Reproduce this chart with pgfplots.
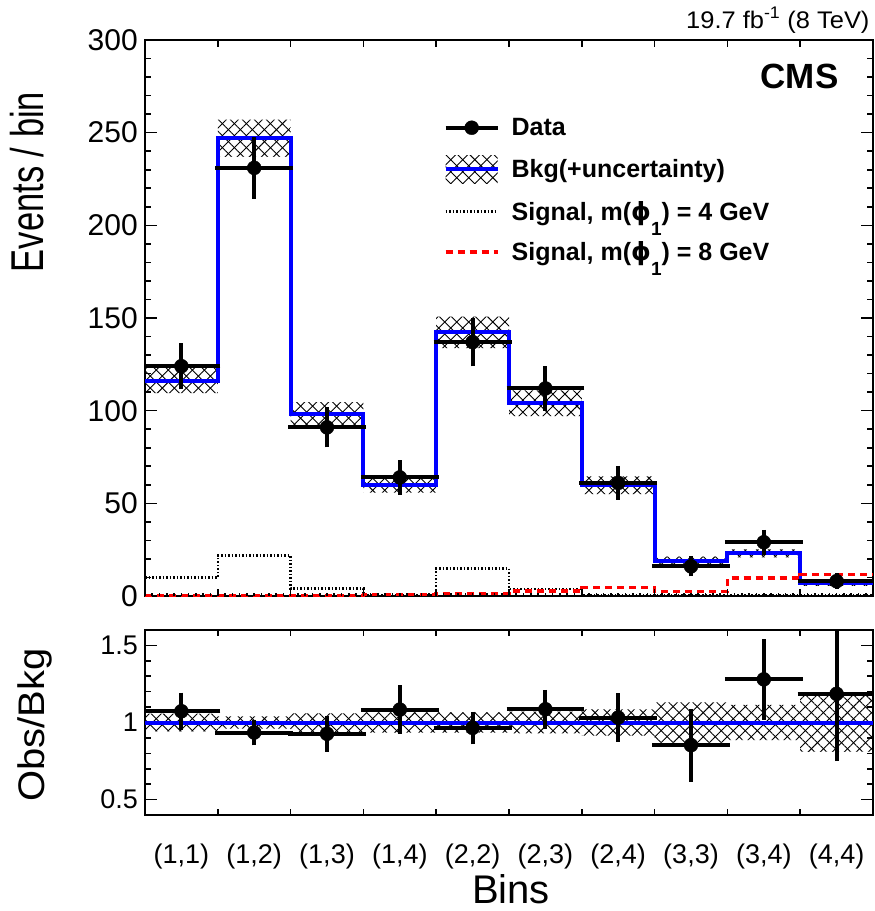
\documentclass[border=0pt]{standalone}
\usepackage{fontspec}
\setmainfont{Liberation Sans}
\newfontfamily\greekfont{DejaVu Sans}
\usepackage{graphicx}
\usepackage{pgfplots}
\usepackage{pgfplotstable}
\pgfplotsset{compat=1.18}
\usepgfplotslibrary{fillbetween}
\usetikzlibrary{patterns.meta}

\definecolor{bkgblue}{RGB}{0,0,255}
\definecolor{sigred}{RGB}{255,0,0}

% Step histograms: left bin edge, last row repeated to close the last bin
\pgfplotstableread{
edge  bkg    bunc  sig4  sig8  runc
0     116.2  6.7   10.0  0.3   0.057
1     247.0  10.0  21.8  0.3   0.040
2     98.3   6.3   4.0   0.4   0.060
3     59.7   3.9   0.6   0.8   0.065
4     142.3  8.5   14.8  1.4   0.065
5     104.0  7.0   3.9   2.7   0.070
6     59.8   4.8   0.2   4.5   0.085
7     19.0   2.3   0.2   2.3   0.130
8     23.0   2.2   0.2   9.6   0.115
9     6.8    1.3   0.2   11.6  0.190
10    6.8    1.3   0.2   11.6  0.190
}\steptab

% Observed events and ratio to the background prediction
\pgfplotstableread{
x    data  derr  ratio  rerr
0.5  124   11.1  1.073  0.104
1.5  231   15.2  0.935  0.067
2.5  91    9.5   0.927  0.100
3.5  64    8.0   1.084  0.140
4.5  137   11.7  0.965  0.090
5.5  112   10.6  1.086  0.110
6.5  61    7.8   1.032  0.140
7.5  16    4.0   0.853  0.220
8.5  29    5.4   1.280  0.245
9.5  8     2.8   1.186  0.420
}\pointtab

\tikzset{
  hatchA/.style={draw=none, pattern={Lines[angle=45,distance=8.5pt,line width=0.9pt]}},
  hatchB/.style={draw=none, pattern={Lines[angle=-45,distance=8.5pt,line width=0.9pt]}},
}

\newcommand{\mphi}{m({\greekfont ϕ}\raisebox{-15pt}[0pt][0pt]{\fontsize{19}{19}\selectfont 1})}

\pgfplotsset{
  panel/.style={
    scale only axis, width=728pt, xmin=0, xmax=10,
    tick align=inside,
    axis line style={line width=1.6pt},
    tick style={line width=1.6pt, black},
    /pgf/number format/assume math mode=true,
  },
  edgeticks/.style={
    panel, axis line style={draw=none}, ytick=\empty, xticklabels={},
    major tick length=7pt, minor tick length=3.5pt,
  },
  datapts/.style={black, only marks, mark=*, mark size=7pt,
    error bars/x dir=both, error bars/x fixed=0.5,
    error bars/y dir=both, error bars/y explicit,
    error bars/error bar style={line width=4pt, black},
    error bars/error mark options={line width=4pt, mark size=2.5pt, black}},
}

\begin{document}
\begin{tikzpicture}[x=1pt,y=1pt]

% ---------------- upper panel ----------------
\begin{axis}[panel,
  at={(145pt,-596pt)}, anchor=south west, height=556pt,
  ymin=0, ymax=300, xtick=\empty,
  ytick={0,50,...,300}, minor y tick num=4, ytick pos=both,
  major tick length=12pt, minor tick length=6pt,
  yticklabel style={inner sep=0pt, xshift=-7pt, font=\fontsize{30}{30}\selectfont},
  legend style={at={(axis description cs:0.41,0.863)}, anchor=north west,
    draw=none, fill=none, inner sep=0pt,
    font=\fontsize{25}{30}\selectfont\bfseries, row sep=16pt,
    /tikz/every odd column/.append style={column sep=10pt}},
  legend cell align=left,
]
\addplot[name path=hiU, const plot, draw=none, forget plot]
  table[x=edge, y expr=\thisrow{bkg}+\thisrow{bunc}] {\steptab};
\addplot[name path=loU, const plot, draw=none, forget plot]
  table[x=edge, y expr=\thisrow{bkg}-\thisrow{bunc}] {\steptab};
\addplot[hatchA, forget plot] fill between[of=hiU and loU];
\addplot[hatchB, forget plot] fill between[of=hiU and loU];
\addplot[const plot, bkgblue, line width=4pt, forget plot]
  table[x=edge, y=bkg] {\steptab};
\addplot[const plot, black, line width=2.5pt, dash pattern=on 1.5pt off 2pt, forget plot]
  table[x=edge, y=sig4] {\steptab};
\addplot[const plot, sigred, line width=3.5pt, dash pattern=on 7pt off 5pt, forget plot]
  table[x=edge, y=sig8] {\steptab};
\addplot[forget plot, datapts] table[x=x, y=data, y error=derr] {\pointtab};

\addlegendimage{legend image code/.code={
  \draw[black, line width=4pt] (0pt,0pt) -- (52pt,0pt);
  \fill[black] (26pt,0pt) circle (7pt);}}
\addlegendentry{Data}
\addlegendimage{legend image code/.code={
  \fill[hatchA] (0pt,-14pt) rectangle (52pt,14pt);
  \fill[hatchB] (0pt,-14pt) rectangle (52pt,14pt);
  \draw[bkgblue, line width=4pt] (0pt,0pt) -- (52pt,0pt);}}
\addlegendentry{Bkg(+uncertainty)}
\addlegendimage{legend image code/.code={
  \draw[black, line width=2.5pt, dash pattern=on 1.5pt off 2pt] (0pt,0pt) -- (52pt,0pt);}}
\addlegendentry{Signal, \mphi\ = 4 GeV}
\addlegendimage{legend image code/.code={
  \draw[sigred, line width=3.5pt, dash pattern=on 7pt off 5pt] (0pt,0pt) -- (52pt,0pt);}}
\addlegendentry{Signal, \mphi\ = 8 GeV}
\end{axis}

% bin-edge ticks of the upper panel: minor ones only along the bottom
\begin{axis}[edgeticks, at={(145pt,-596pt)}, anchor=south west, height=556pt,
  ymin=0, ymax=300, xtick={0,...,10}, minor x tick num=9, xtick pos=bottom]
\addplot[draw=none, forget plot] coordinates {(0,0) (10,300)};
\end{axis}
\begin{axis}[edgeticks, at={(145pt,-596pt)}, anchor=south west, height=556pt,
  ymin=0, ymax=300, xtick={1,...,9}, xtick pos=top]
\addplot[draw=none, forget plot] coordinates {(0,0) (10,300)};
\end{axis}

% ---------------- ratio panel ----------------
\begin{axis}[panel,
  at={(145pt,-815pt)}, anchor=south west, height=185pt,
  ymin=0.4, ymax=1.6,
  ytick={0.5,1,1.5}, minor y tick num=4, ytick pos=both,
  major tick length=12pt, minor tick length=6pt,
  yticklabel style={inner sep=0pt, xshift=-7pt, font=\fontsize{27}{27}\selectfont},
  xtick={0.5,1.5,...,9.5}, xtick style={draw=none},
  xticklabels={{(1,1)},{(1,2)},{(1,3)},{(1,4)},{(2,2)},{(2,3)},{(2,4)},{(3,3)},{(3,4)},{(4,4)}},
  xticklabel style={anchor=base, yshift=-48pt, font=\fontsize{27}{27}\selectfont},
]
\addplot[name path=hiR, const plot, draw=none, forget plot]
  table[x=edge, y expr=1+\thisrow{runc}] {\steptab};
\addplot[name path=loR, const plot, draw=none, forget plot]
  table[x=edge, y expr=1-\thisrow{runc}] {\steptab};
\addplot[hatchA, forget plot] fill between[of=hiR and loR];
\addplot[hatchB, forget plot] fill between[of=hiR and loR];
\addplot[bkgblue, line width=4pt, forget plot] coordinates {(0,1) (10,1)};
\addplot[forget plot, datapts] table[x=x, y=ratio, y error=rerr] {\pointtab};
\end{axis}
\begin{axis}[edgeticks, at={(145pt,-815pt)}, anchor=south west, height=185pt,
  ymin=0.4, ymax=1.6, xtick={1,...,9}, xtick pos=both, major tick length=6pt]
\addplot[draw=none, forget plot] coordinates {(0,0.4) (10,1.6)};
\end{axis}

% ---------------- titles ----------------
\node[rotate=90, anchor=base, font=\fontsize{46}{46}\selectfont] at (43,-182)
  {\scalebox{0.75}[1]{Events / bin}};
\node[rotate=90, anchor=base, font=\fontsize{37}{37}\selectfont] at (44,-725)
  {\scalebox{1.08}[1]{Obs/Bkg}};
\node[anchor=base, font=\fontsize{40}{40}\selectfont] at (511,-903) {Bins};
\node[anchor=base east, font=\fontsize{24}{24}\selectfont] at (873,-28)
  {\scalebox{1.06}[1]{19.7 fb\textsuperscript{-1} (8 TeV)}};
\node[anchor=base east, font=\fontsize{35}{35}\selectfont\bfseries] at (842,-88) {CMS};

% page area
\pgfresetboundingbox
\path[use as bounding box] (0,0) rectangle (875,-911);
\end{tikzpicture}
\end{document}
